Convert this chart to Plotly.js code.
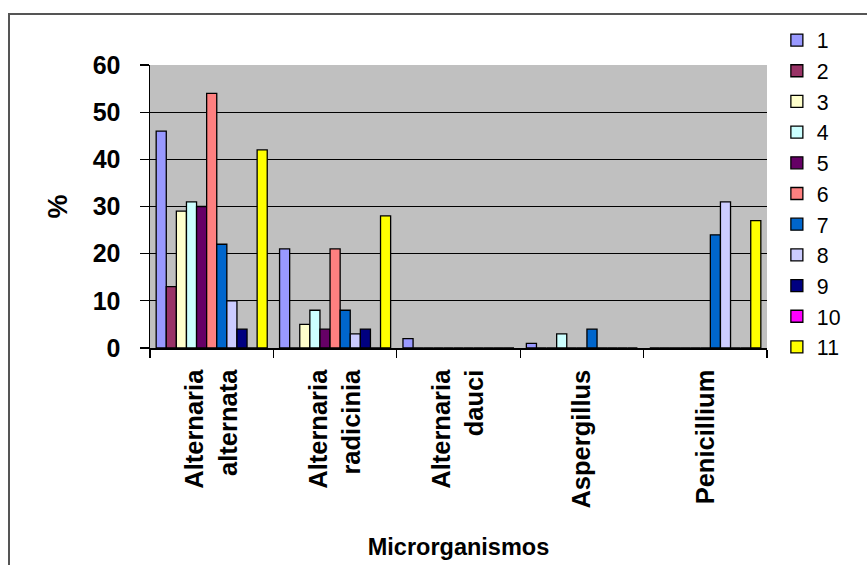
<!DOCTYPE html>
<html>
<head>
<meta charset="utf-8">
<script src="https://cdn.plot.ly/plotly-3.0.1.min.js"></script>
<style>
  html, body { margin: 0; padding: 0; background: #fff; }
  #chart { width: 867px; height: 565px; }
  #frame { position: absolute; left: 8px; top: 13px; width: 900px; height: 600px;
           border-left: 2px solid #555; border-top: 2px solid #555; pointer-events: none; }
</style>
</head>
<body>
<div id="chart"></div>
<div id="frame"></div>
<script>
const categories = ["Alternaria<br>alternata", "Alternaria<br>radicinia", "Alternaria<br>dauci", "Aspergillus", "Penicillium"];
const seriesNames = ["1", "2", "3", "4", "5", "6", "7", "8", "9", "10", "11"];
const s1  = [46, 21, 2, 1, 0];
const s2  = [13, 0, 0, 0, 0];
const s3  = [29, 5, 0, 0, 0];
const s4  = [31, 8, 0, 3, 0];
const s5  = [30, 4, 0, 0, 0];
const s6  = [54, 21, 0, 0, 0];
const s7  = [22, 8, 0, 4, 24];
const s8  = [10, 3, 0, 0, 31];
const s9  = [4, 4, 0, 0, 0];
const s10 = [0, 0, 0, 0, 0];
const s11 = [42, 28, 0, 0, 27];
const seriesValues = [s1, s2, s3, s4, s5, s6, s7, s8, s9, s10, s11];
const colors = ["#9999FF", "#993366", "#FFFFCC", "#CCFFFF", "#660066", "#FF8080",
                "#0066CC", "#CCCCFF", "#000080", "#FF00FF", "#FFFF00"];
const yTicks = [0, 10, 20, 30, 40, 50, 60];

const font = "Arial, 'Liberation Sans', sans-serif";

const traces = seriesNames.map((name, i) => ({
  type: "bar",
  name: name,
  x: categories,
  y: seriesValues[i],
  marker: { color: colors[i], line: { color: "#000", width: 1.3 } }
}));

const layout = {
  width: 867, height: 565,
  margin: { l: 150, r: 100, t: 65, b: 217 },
  paper_bgcolor: "#fff",
  plot_bgcolor: "#C0C0C0",
  barmode: "group",
  bargap: 0.1,
  bargroupgap: 0,
  showlegend: true,
  legend: {
    x: 1.016, xanchor: "left", y: 1.16, yanchor: "top",
    maxheight: 540,
    itemwidth: 30,
    font: { family: font, size: 21.3, color: "#000" },
    bgcolor: "rgba(0,0,0,0)",
    traceorder: "normal"
  },
  xaxis: {
    type: "category",
    range: [-0.5, 4.5],
    tickangle: -90,
    tickson: "boundaries",
    ticks: "outside", ticklen: 8, tickcolor: "#000", tickwidth: 1.3,
    ticklabelstandoff: 10,
    showline: true, linecolor: "#000", linewidth: 1.5,
    showgrid: false,
    tickfont: { family: font, size: 25.5, color: "#000", weight: "bold" },
    title: { text: "Microrganismos", font: { family: font, size: 23.5, color: "#000", weight: "bold" }, standoff: 31 }
  },
  yaxis: {
    range: [0, 60],
    tickvals: yTicks,
    ticktext: yTicks.map(String),
    ticks: "outside", ticklen: 9, tickcolor: "#000", tickwidth: 1.3,
    ticklabelstandoff: 14,
    showline: true, linecolor: "#000", linewidth: 1.5,
    showgrid: true, gridcolor: "#000", gridwidth: 1.2,
    zeroline: false,
    tickfont: { family: font, size: 25, color: "#000", weight: "bold" },
    title: { text: "%", font: { family: font, size: 27, color: "#000", weight: "bold" }, standoff: 17 }
  }
};

Plotly.newPlot("chart", traces, layout, { displayModeBar: false, staticPlot: true });
</script>
</body>
</html>
